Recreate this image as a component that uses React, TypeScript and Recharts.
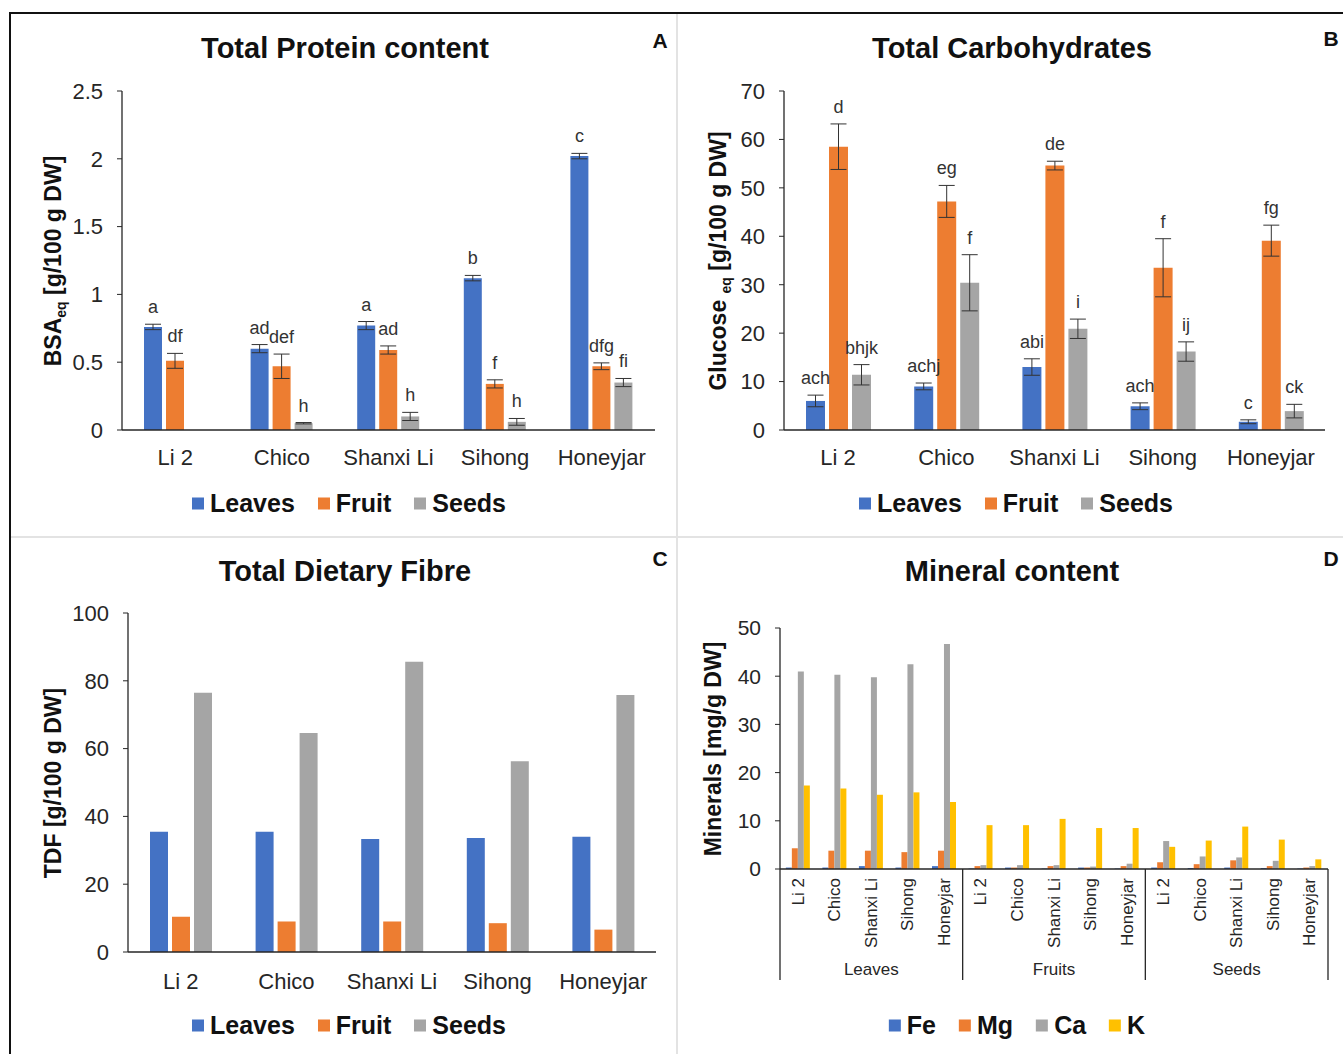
import React from 'react';
import { Bar, BarChart, ErrorBar, LabelList, XAxis, YAxis } from 'recharts';

// Four-panel figure: protein, carbohydrates, fibre, minerals per cultivar / tissue.

const FONT = '"Liberation Sans", Arial, Helvetica, sans-serif';
const INK = '#262626';
const C = { blue: '#4472C4', orange: '#ED7D31', gray: '#A5A5A5', yellow: '#FFC000' };

const CULTIVARS = ['Li 2', 'Chico', 'Shanxi Li', 'Sihong', 'Honeyjar'];
const TISSUE_GROUPS = ['Leaves', 'Fruits', 'Seeds'];

// A - total protein (g BSAeq / 100 g DW)
const protLeaves = [0.76, 0.6, 0.77, 1.12, 2.02];
const protLeavesErr = [0.02, 0.03, 0.03, 0.02, 0.02];
const protFruit = [0.51, 0.47, 0.59, 0.34, 0.47];
const protFruitErr = [0.055, 0.09, 0.03, 0.03, 0.025];
const protSeeds = [0, 0.05, 0.1, 0.06, 0.35];
const protSeedsErr = [0, 0.005, 0.03, 0.025, 0.03];
const protLeavesSig = ['a', 'ad', 'a', 'b', 'c'];
const protFruitSig = ['df', 'def', 'ad', 'f', 'dfg'];
const protSeedsSig = ['', 'h', 'h', 'h', 'fi'];
const protTicks = [0, 0.5, 1, 1.5, 2, 2.5];

// B - total carbohydrates (g glucose eq / 100 g DW)
const carbLeaves = [6.0, 9.0, 13.0, 4.9, 1.7];
const carbLeavesErr = [1.2, 0.7, 1.7, 0.7, 0.4];
const carbFruit = [58.5, 47.2, 54.6, 33.5, 39.1];
const carbFruitErr = [4.7, 3.3, 0.9, 6.0, 3.2];
const carbSeeds = [11.4, 30.4, 20.9, 16.2, 3.9];
const carbSeedsErr = [2.1, 5.8, 2.0, 2.0, 1.4];
const carbLeavesSig = ['ach', 'achj', 'abi', 'ach', 'c'];
const carbFruitSig = ['d', 'eg', 'de', 'f', 'fg'];
const carbSeedsSig = ['bhjk', 'f', 'i', 'ij', 'ck'];
const carbTicks = [0, 10, 20, 30, 40, 50, 60, 70];

// C - total dietary fibre (g / 100 g DW)
const fibLeaves = [35.5, 35.5, 33.3, 33.6, 34.0];
const fibFruit = [10.4, 9.0, 9.0, 8.5, 6.6];
const fibSeeds = [76.5, 64.6, 85.6, 56.3, 75.8];
const fibTicks = [0, 20, 40, 60, 80, 100];

// D - minerals (mg/g DW), leaves x5, fruits x5, seeds x5
const minFe = [0.3, 0.3, 0.6, 0.3, 0.6, 0.1, 0.3, 0.1, 0.3, 0.1, 0.3, 0.2, 0.3, 0.2, 0.1];
const minMg = [4.3, 3.8, 3.8, 3.5, 3.8, 0.6, 0.3, 0.6, 0.3, 0.6, 1.4, 1.0, 1.8, 0.6, 0.3];
const minCa = [41.0, 40.3, 39.8, 42.5, 46.7, 0.8, 0.8, 0.8, 0.5, 1.1, 5.8, 2.6, 2.4, 1.7, 0.6];
const minK = [17.3, 16.7, 15.4, 15.9, 13.9, 9.1, 9.1, 10.4, 8.5, 8.5, 4.6, 5.9, 8.8, 6.1, 2.0];
const minTicks = [0, 10, 20, 30, 40, 50];

type Row = {
  name: string; leaves: number; fruit: number; seeds: number;
  eL?: number; eF?: number; eS?: number; sL?: string; sF?: string; sS?: string;
};

const protRows: Row[] = CULTIVARS.map((name, i) => ({
  name, leaves: protLeaves[i], fruit: protFruit[i], seeds: protSeeds[i],
  eL: protLeavesErr[i], eF: protFruitErr[i], eS: protSeedsErr[i],
  sL: protLeavesSig[i], sF: protFruitSig[i], sS: protSeedsSig[i],
}));
const carbRows: Row[] = CULTIVARS.map((name, i) => ({
  name, leaves: carbLeaves[i], fruit: carbFruit[i], seeds: carbSeeds[i],
  eL: carbLeavesErr[i], eF: carbFruitErr[i], eS: carbSeedsErr[i],
  sL: carbLeavesSig[i], sF: carbFruitSig[i], sS: carbSeedsSig[i],
}));
const fibRows: Row[] = CULTIVARS.map((name, i) => ({
  name, leaves: fibLeaves[i], fruit: fibFruit[i], seeds: fibSeeds[i],
}));
const minRows = minK.map((_, i) => ({
  name: CULTIVARS[i % 5], Fe: minFe[i], Mg: minMg[i], Ca: minCa[i], K: minK[i],
}));

// letter above the error bar; value arrives as "letters|error", ppu = pixels per value unit
const sigLabel = (ppu: number) => (props: any) => {
  const { x, y, width, value } = props;
  const [t, e] = String(value ?? '').split('|');
  if (!t) return null;
  const top = Number(y) - Number(e || 0) * ppu;
  return (
    <text x={Number(x) + Number(width) / 2} y={top - 11} textAnchor="middle"
      fontSize={18} fill="#333" fontFamily={FONT}>{t}</text>
  );
};

const yTick = { fontSize: 22, fill: INK, fontFamily: FONT };
const xTick = { fontSize: 22, fill: INK, fontFamily: FONT };

type TissueProps = {
  rows: Row[];
  width: number;
  height: number;
  margin: { top: number; right: number; bottom: number; left: number };
  yMax: number;
  ticks: number[];
  xTickMargin: number;
  withSig?: boolean;
};

function TissueChart({ rows, width, height, margin, yMax, ticks, xTickMargin, withSig }: TissueProps) {
  const xH = 40;
  const plotH = height - margin.top - margin.bottom - xH;
  const label = sigLabel(plotH / yMax);
  return (
    <BarChart width={width} height={height} data={rows} margin={margin} barCategoryGap={22} barGap={4}>
      <XAxis dataKey="name" height={xH} tick={xTick} tickLine={false} tickMargin={xTickMargin}
        axisLine={{ stroke: INK, strokeWidth: 1.3 }} interval={0} />
      <YAxis width={60} domain={[0, yMax]} ticks={ticks} tick={yTick} tickSize={5} tickMargin={14}
        axisLine={{ stroke: INK, strokeWidth: 1.3 }} tickLine={{ stroke: INK }} />
      <Bar dataKey="leaves" fill={C.blue} isAnimationActive={false}>
        {withSig && <ErrorBar dataKey="eL" width={8} stroke="#333" strokeWidth={1} direction="y" />}
        {withSig && <LabelList dataKey={(r: Row) => `${r.sL}|${r.eL}`} content={label} />}
      </Bar>
      <Bar dataKey="fruit" fill={C.orange} isAnimationActive={false}>
        {withSig && <ErrorBar dataKey="eF" width={8} stroke="#333" strokeWidth={1} direction="y" />}
        {withSig && <LabelList dataKey={(r: Row) => `${r.sF}|${r.eF}`} content={label} />}
      </Bar>
      <Bar dataKey="seeds" fill={C.gray} isAnimationActive={false}>
        {withSig && <ErrorBar dataKey="eS" width={8} stroke="#333" strokeWidth={1} direction="y" />}
        {withSig && <LabelList dataKey={(r: Row) => `${r.sS}|${r.eS}`} content={label} />}
      </Bar>
    </BarChart>
  );
}

const MineralTick = (props: any) => {
  const { x, y, payload } = props;
  return (
    <text x={x} y={y} transform={`rotate(-90, ${x}, ${y})`} textAnchor="end" dominantBaseline="central"
      fontSize={17} fill={INK} fontFamily={FONT}>{payload.value}</text>
  );
};

const MIN_W = 666;
const MIN_MARGIN = { top: 91, right: 15, bottom: 73, left: 53 };
const MIN_YAXIS_W = 50;
const CAT_AXIS_H = 111;

// second category axis: draws the group separators and the tissue names
const GroupTick = (props: any) => {
  const { x, y, payload, index } = props;
  const band = (MIN_W - MIN_MARGIN.left - MIN_MARGIN.right - MIN_YAXIS_W) / minRows.length;
  const half = payload && payload.offset ? payload.offset : band / 2;
  const parts: React.ReactNode[] = [];
  if (index % 5 === 0) {
    parts.push(<line key="l" x1={x - half} x2={x - half} y1={y - CAT_AXIS_H} y2={y} stroke={INK} strokeWidth={1.3} />);
  }
  if (index === minRows.length - 1) {
    parts.push(<line key="r" x1={x + half} x2={x + half} y1={y - CAT_AXIS_H} y2={y} stroke={INK} strokeWidth={1.3} />);
  }
  if (index % 5 === 2) {
    parts.push(
      <text key="t" x={x} y={y - 5} textAnchor="middle" fontSize={17} fill={INK} fontFamily={FONT}>
        {TISSUE_GROUPS[Math.floor(index / 5)]}
      </text>,
    );
  }
  return <g>{parts}</g>;
};

function MineralChart() {
  return (
    <BarChart width={MIN_W} height={517} data={minRows} margin={MIN_MARGIN} barCategoryGap="16%" barGap={0}>
      <XAxis dataKey="name" height={CAT_AXIS_H} tick={<MineralTick />} tickLine={false} tickSize={0}
        tickMargin={9} interval={0} axisLine={{ stroke: INK, strokeWidth: 1.3 }} />
      <XAxis xAxisId="grp" dataKey="name" height={1} axisLine={false} tickLine={false} tickSize={0}
        tickMargin={0} interval={0} tick={<GroupTick />} />
      <YAxis width={MIN_YAXIS_W} domain={[0, 50]} ticks={minTicks} tick={{ ...yTick, fontSize: 21 }} tickSize={5}
        tickMargin={14} axisLine={{ stroke: INK, strokeWidth: 1.3 }} tickLine={{ stroke: INK }} />
      <Bar dataKey="Fe" fill={C.blue} isAnimationActive={false} />
      <Bar dataKey="Mg" fill={C.orange} isAnimationActive={false} />
      <Bar dataKey="Ca" fill={C.gray} isAnimationActive={false} />
      <Bar dataKey="K" fill={C.yellow} isAnimationActive={false} />
    </BarChart>
  );
}

const abs = (left: number, top: number): React.CSSProperties => ({ position: 'absolute', left, top });

function Title({ cx, cy, children }: { cx: number; cy: number; children: React.ReactNode }) {
  return (
    <div style={{ ...abs(cx, cy), transform: 'translate(-50%, -50%)', fontSize: 29, fontWeight: 700,
      whiteSpace: 'nowrap', color: '#111' }}>{children}</div>
  );
}

function Letter({ cx, cy, children }: { cx: number; cy: number; children: React.ReactNode }) {
  return (
    <div style={{ ...abs(cx, cy), transform: 'translate(-50%, -50%)', fontSize: 21, fontWeight: 700,
      color: '#111' }}>{children}</div>
  );
}

function VLabel({ cx, cy, children }: { cx: number; cy: number; children: React.ReactNode }) {
  return (
    <div style={{ ...abs(cx, cy), transform: 'translate(-50%, -50%) rotate(-90deg)', fontSize: 23,
      fontWeight: 700, whiteSpace: 'nowrap', color: '#111', lineHeight: 1 }}>{children}</div>
  );
}

function Legend({ cx, cy, items }: { cx: number; cy: number; items: { label: string; color: string }[] }) {
  return (
    <div style={{ ...abs(cx, cy), transform: 'translate(-50%, -50%)', display: 'flex', alignItems: 'center',
      gap: 23, whiteSpace: 'nowrap', fontSize: 25, fontWeight: 700, color: '#111' }}>
      {items.map((it) => (
        <div key={it.label} style={{ display: 'flex', alignItems: 'center', gap: 6 }}>
          <span style={{ display: 'inline-block', width: 12, height: 12, background: it.color }} />
          <span>{it.label}</span>
        </div>
      ))}
    </div>
  );
}

const tissueLegend = [
  { label: 'Leaves', color: C.blue },
  { label: 'Fruit', color: C.orange },
  { label: 'Seeds', color: C.gray },
];
const mineralLegend = [
  { label: 'Fe', color: C.blue },
  { label: 'Mg', color: C.orange },
  { label: 'Ca', color: C.gray },
  { label: 'K', color: C.yellow },
];

const sub: React.CSSProperties = { fontSize: 14, verticalAlign: 'sub', lineHeight: 0 };

export default function App() {
  return (
    <div style={{ position: 'absolute', left: 0, top: 0, width: 1343, height: 1054, background: '#fff',
      fontFamily: FONT, overflow: 'hidden' }}>
      {/* frame and panel dividers */}
      <div style={{ ...abs(9, 12), width: 1340, height: 1050, borderTop: '2px solid #111', borderLeft: '2px solid #111' }} />
      <div style={{ ...abs(676, 14), width: 2, height: 1040, background: '#e3e3e3' }} />
      <div style={{ ...abs(11, 536), width: 1332, height: 2, background: '#e3e3e3' }} />

      {/* A */}
      <div style={abs(10, 13)}>
        <TissueChart rows={protRows} width={667} height={524} yMax={2.5} ticks={protTicks} xTickMargin={13}
          margin={{ top: 78, right: 22, bottom: 67, left: 52 }} withSig />
      </div>
      <Title cx={345} cy={48}>Total Protein content</Title>
      <Letter cx={660} cy={41}>A</Letter>
      <VLabel cx={53} cy={261}>BSA<span style={sub}>eq</span> [g/100 g DW]</VLabel>
      <Legend cx={349} cy={503} items={tissueLegend} />

      {/* B */}
      <div style={abs(677, 13)}>
        <TissueChart rows={carbRows} width={666} height={524} yMax={70} ticks={carbTicks} xTickMargin={13}
          margin={{ top: 78, right: 18, bottom: 67, left: 47 }} withSig />
      </div>
      <Title cx={1012} cy={48}>Total Carbohydrates</Title>
      <Letter cx={1331} cy={39}>B</Letter>
      <VLabel cx={718} cy={261}>Glucose <span style={sub}>eq</span> [g/100 g DW]</VLabel>
      <Legend cx={1016} cy={503} items={tissueLegend} />

      {/* C */}
      <div style={abs(10, 537)}>
        <TissueChart rows={fibRows} width={667} height={517} yMax={100} ticks={fibTicks} xTickMargin={15}
          margin={{ top: 76, right: 21, bottom: 62, left: 58 }} />
      </div>
      <Title cx={345} cy={571}>Total Dietary Fibre</Title>
      <Letter cx={660} cy={559}>C</Letter>
      <VLabel cx={53} cy={783}>TDF [g/100 g DW]</VLabel>
      <Legend cx={349} cy={1025} items={tissueLegend} />

      {/* D */}
      <div style={abs(677, 537)}>
        <MineralChart />
      </div>
      <Title cx={1012} cy={571}>Mineral content</Title>
      <Letter cx={1331} cy={559}>D</Letter>
      <VLabel cx={713} cy={749}>Minerals [mg/g DW]</VLabel>
      <Legend cx={1017} cy={1025} items={mineralLegend} />
    </div>
  );
}
